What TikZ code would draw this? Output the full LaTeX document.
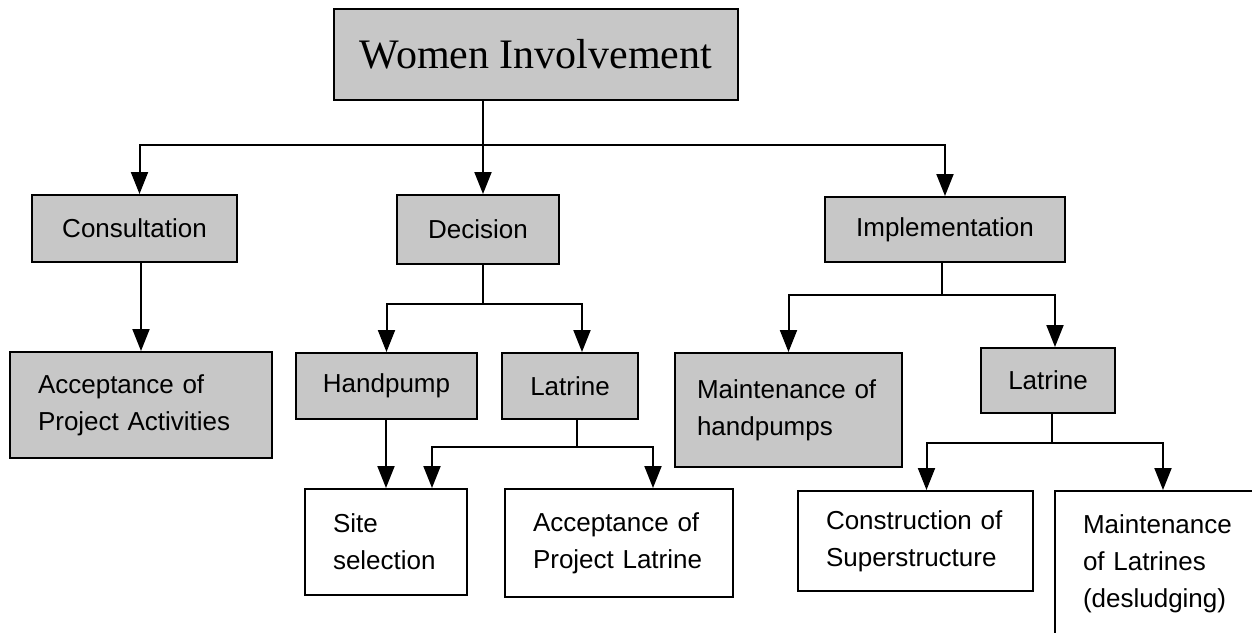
\documentclass[tikz,border=0pt]{standalone}
\usepackage{fontspec}
\setmainfont{Liberation Sans}
\newfontfamily\titlefont{Liberation Serif}
\usetikzlibrary{arrows.meta}

\begin{document}
\begin{tikzpicture}[x=1pt, y=-1pt, >={Triangle[length=22pt,width=17pt]}, line width=2pt,
  topic/.style={draw, fill=black!22, inner sep=0pt, font=\fontsize{26}{35}\selectfont},
  leaf/.style={draw, fill=white, align=left, inner xsep=28pt, inner ysep=0pt, font=\fontsize{26}{37}\selectfont}]
  \path[use as bounding box] (0,0) rectangle (1252,632);
  \clip (0,0) rectangle (1252,632);
  % boxes
  \node[topic, minimum width=404, minimum height=91, font=\titlefont\fontsize{42}{50}\selectfont] (women) at (536,54) {Women Involvement};
  \node[topic, minimum width=205, minimum height=67] (consult) at (134.5,228.5) {Consultation};
  \node[topic, minimum width=162, minimum height=69] (decision) at (478,229.5) {Decision};
  \node[topic, minimum width=240, minimum height=65] (implement) at (945,229.5) {Implementation};
  \node[leaf, fill=black!22, text width=206, minimum height=106] (accact) at (141,405) {Acceptance of\\Project Activities};
  \node[topic, minimum width=181, minimum height=66] (pump) at (386.5,386) {Handpump};
  \node[topic, minimum width=136, minimum height=66] (latdec) at (570,386) {Latrine};
  \node[leaf, fill=black!22, inner xsep=22pt, text width=183, minimum height=114] (maintpump) at (788.5,410) {Maintenance of\\handpumps};
  \node[topic, minimum width=134, minimum height=65] (latimp) at (1048,380.5) {Latrine};
  \node[leaf, text width=106, minimum height=106] (site) at (386,542) {Site\\selection};
  \node[leaf, text width=172, minimum height=108] (acclat) at (619,543) {Acceptance of\\Project Latrine};
  \node[leaf, text width=179, minimum height=100] (construct) at (915.5,541) {Construction of\\Superstructure};
  \node[leaf, anchor=north west, text width=200, inner ysep=24pt] (maintlat) at (1054,490) {Maintenance\\of Latrines\\(desludging)};
  % junctions
  \coordinate (s0) at (483,145);
  \coordinate (s1) at (483,304);
  \coordinate (s2) at (577,447);
  \coordinate (s3) at (942,295);
  \coordinate (s4) at (1052,443);
  % top level
  \draw (women.south -| s0) -- (s0);
  \draw[->] (s0) -| ([xshift=5pt]consult.north);
  \draw[->] (s0) -- (decision.north -| s0);
  \draw[->] (s0) -| (implement.north);
  % consultation
  \draw[->] (accact.north |- consult.south) -- (accact.north);
  % decision
  \draw (decision.south -| s1) -- (s1);
  \draw[->] (s1) -| (pump.north);
  \draw[->] (s1) -| ([xshift=12pt]latdec.north);
  \draw[->] (site.north |- pump.south) -- (site.north);
  \draw (latdec.south -| s2) -- (s2);
  \draw[->] (s2) -| ([xshift=46pt]site.north);
  \draw[->] (s2) -| ([xshift=34pt]acclat.north);
  % implementation
  \draw (implement.south -| s3) -- (s3);
  \draw[->] (s3) -| (maintpump.north);
  \draw[->] (s3) -| ([xshift=7pt]latimp.north);
  \draw (latimp.south -| s4) -- (s4);
  \draw[->] (s4) -| ([xshift=11pt]construct.north);
  \draw[->] (s4) -| ([xshift=109pt]maintlat.north west);
\end{tikzpicture}
\end{document}
